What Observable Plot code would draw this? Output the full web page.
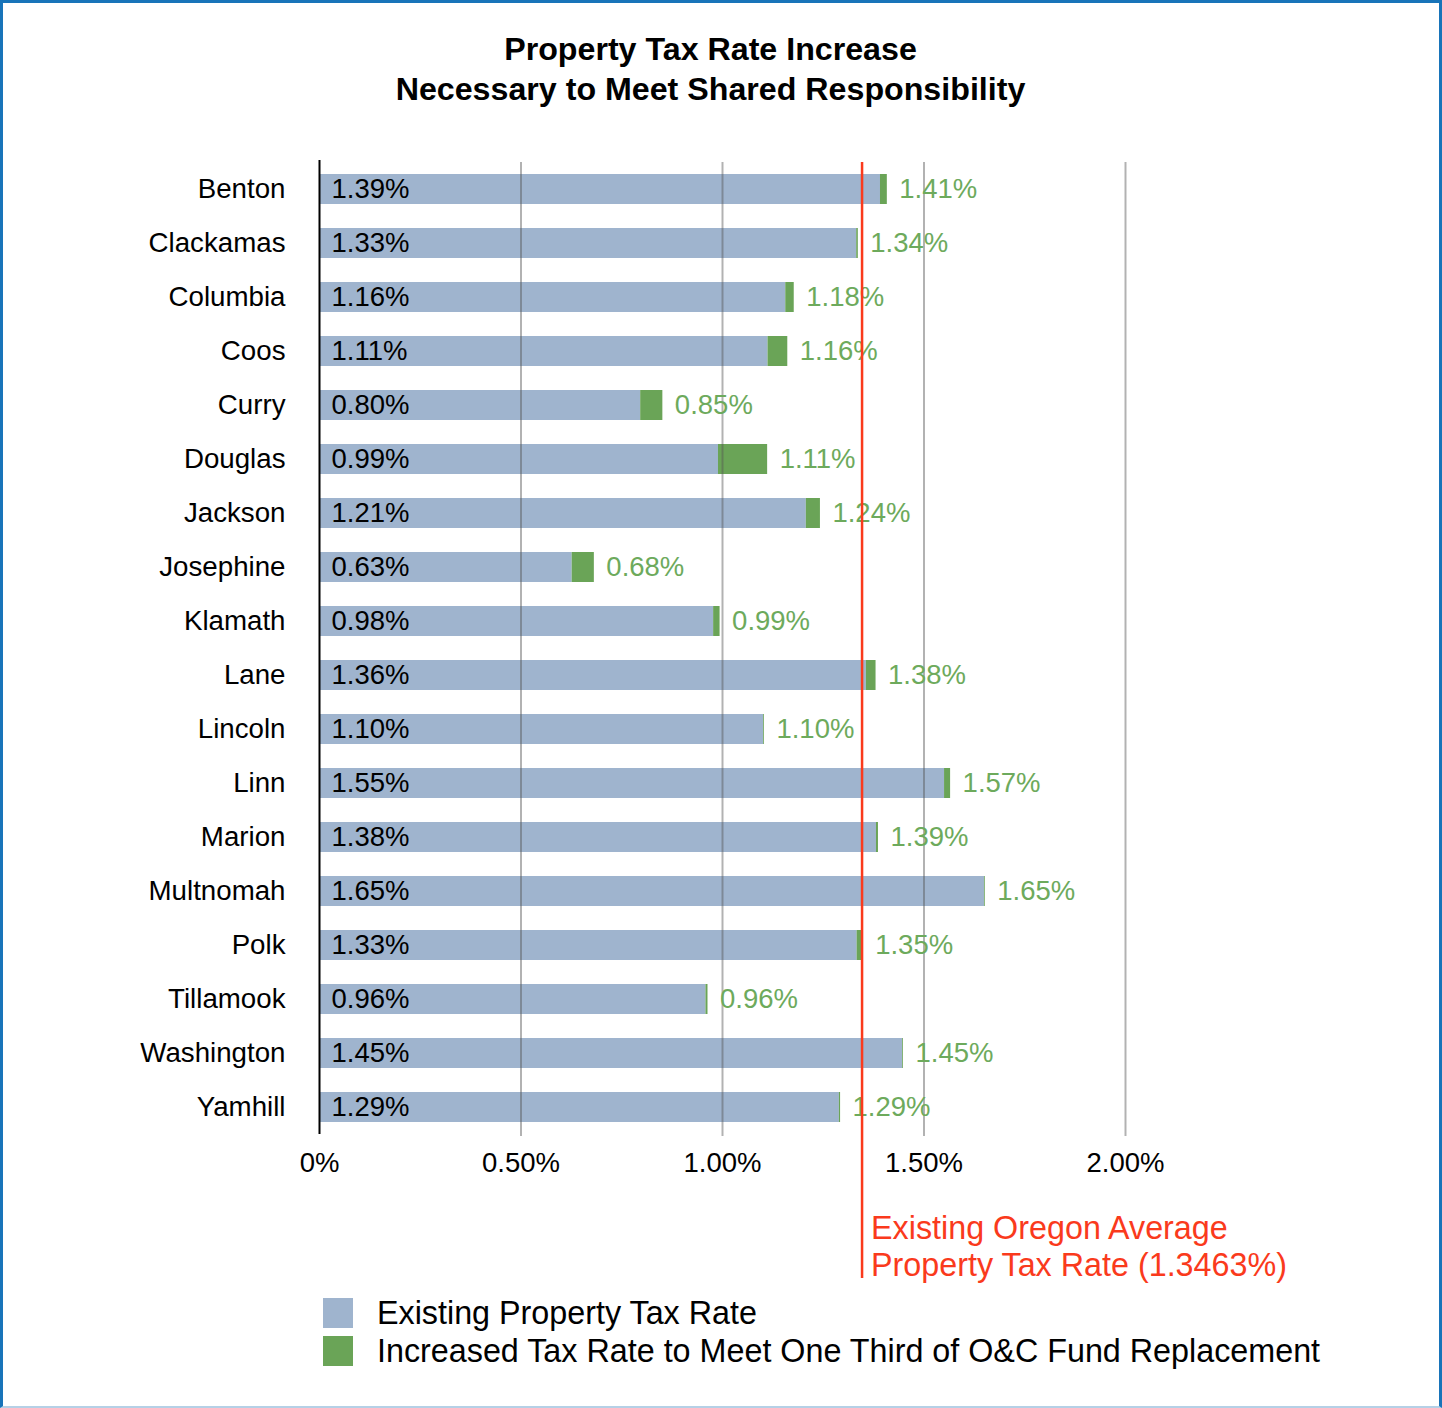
<!DOCTYPE html>
<html>
<head>
<meta charset="utf-8">
<script src="https://cdn.jsdelivr.net/npm/d3@7"></script>
<script src="https://cdn.jsdelivr.net/npm/@observablehq/plot@0.6"></script>
<style>
  html, body { margin: 0; padding: 0; background: #fff; }
  body { font-family: "Liberation Sans", Arial, Helvetica, sans-serif; color: #000; }
  #frame { position: relative; width: 1442px; height: 1408px; overflow: hidden; }
  #border { position: absolute; left: 0; top: 0; width: 1442px; height: 1408px; box-sizing: border-box;
            border: 3px solid #1874b9; border-bottom: 2px solid #b5d0e6; pointer-events: none; }
  #title { position: absolute; left: 0; width: 1421px; top: 29px; text-align: center;
           font-weight: bold; font-size: 32.2px; line-height: 40px; }
  #chart { position: absolute; left: 0; top: 0; }
  #legend { position: absolute; left: 323px; top: 1294px; font-size: 32.3px; }
  .item { display: flex; align-items: center; height: 38px; }
  .sw { width: 30px; height: 30px; margin-right: 24px; }
</style>
</head>
<body>
<div id="frame">
  <div id="chart"></div>
  <div id="title">Property Tax Rate Increase<br>Necessary to Meet Shared Responsibility</div>
  <div id="legend"></div>
  <div id="border"></div>
</div>
<script>
const counties = ["Benton","Clackamas","Columbia","Coos","Curry","Douglas","Jackson","Josephine","Klamath","Lane","Lincoln","Linn","Marion","Multnomah","Polk","Tillamook","Washington","Yamhill"];
const existingRate = [1.392,1.333,1.157,1.113,0.797,0.990,1.208,0.627,0.978,1.357,1.102,1.551,1.382,1.650,1.334,0.959,1.447,1.290];
const increasedRate = [1.409,1.337,1.178,1.162,0.852,1.112,1.243,0.682,0.994,1.381,1.104,1.566,1.387,1.652,1.349,0.964,1.449,1.293];
const oregonAverage = 1.3463;
const xTicks = [0, 0.5, 1, 1.5, 2];
const xTickLabels = ["0%", "0.50%", "1.00%", "1.50%", "2.00%"];
const seriesNames = ["Existing Property Tax Rate", "Increased Tax Rate to Meet One Third of O&C Fund Replacement"];
const seriesColors = ["#9fb4ce", "#6aa457"];
const labelGreen = "#6daa5c";
const avgRed = "#fa3a1c";

const data = counties.map((c, i) => ({county: c, existing: existingRate[i], increased: increasedRate[i]}));
const fmt = d3.format(".2f");

const chart = Plot.plot({
  width: 1442,
  height: 1300,
  marginTop: 162,
  marginBottom: 166,
  marginLeft: 319,
  marginRight: 317,
  style: {fontFamily: '"Liberation Sans", Arial, Helvetica, sans-serif', background: "transparent", overflow: "visible", color: "#000"},
  x: {domain: [0, 2]},
  y: {domain: counties, paddingInner: 0.44, paddingOuter: 0.22},
  marks: [
    Plot.barX(data, {y: "county", x1: 0, x2: "existing", fill: seriesColors[0]}),
    Plot.barX(data, {y: "county", x1: "existing", x2: "increased", fill: seriesColors[1]}),
    Plot.ruleX(data, {x: "existing", y: "county", stroke: "#4f7f62", strokeWidth: 1, strokeOpacity: 0.6}),
    Plot.ruleX(xTicks.slice(1), {stroke: "#555", strokeOpacity: 0.45, strokeWidth: 2, insetBottom: -2}),
    Plot.ruleX([0], {stroke: "#000", strokeWidth: 2, insetTop: -2}),
    Plot.axisY({tickSize: 0, tickPadding: 34, fontSize: 27.7, label: null, fill: "#000"}),
    Plot.axisX({ticks: xTicks, tickFormat: (d) => xTickLabels[xTicks.indexOf(d)], tickSize: 0, tickPadding: 18, fontSize: 27.5, label: null, fill: "#000"}),
    Plot.text(data, {y: "county", x: 0, text: (d) => fmt(d.existing) + "%", textAnchor: "start", dx: 12, fontSize: 27.5, fill: "#000"}),
    Plot.text(data, {y: "county", x: "increased", text: (d) => fmt(d.increased) + "%", textAnchor: "start", dx: 12, fontSize: 27.5, fill: labelGreen}),
    Plot.ruleX([oregonAverage], {stroke: avgRed, strokeWidth: 2.5, insetBottom: -144}),
    Plot.text([oregonAverage], {x: (d) => d, frameAnchor: "bottom", lineAnchor: "top", dy: 78, dx: 9, textAnchor: "start",
      text: (d) => "Existing Oregon Average\nProperty Tax Rate (" + d + "%)", fontSize: 32.3, lineHeight: 1.15, fill: avgRed})
  ]
});
document.getElementById("chart").appendChild(chart);

const legend = document.getElementById("legend");
seriesNames.forEach((name, i) => {
  const row = document.createElement("div");
  row.className = "item";
  const sw = document.createElement("div");
  sw.className = "sw";
  sw.style.background = seriesColors[i];
  const t = document.createElement("span");
  t.textContent = name;
  row.appendChild(sw);
  row.appendChild(t);
  legend.appendChild(row);
});
</script>
</body>
</html>
